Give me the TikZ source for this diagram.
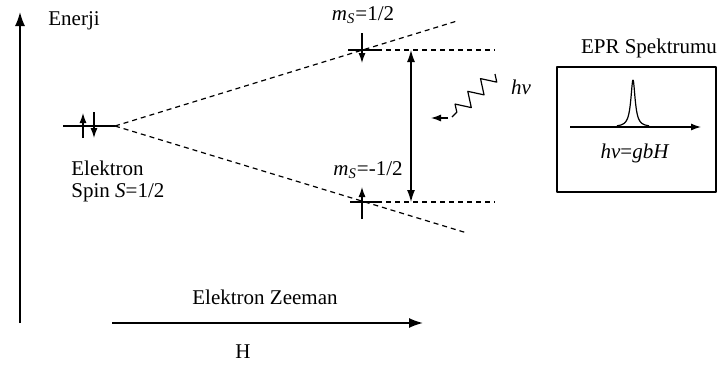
\documentclass[tikz,border=0pt]{standalone}
\usepackage{fontspec}
\setmainfont{Liberation Serif}
\usetikzlibrary{arrows.meta,decorations.pathmorphing}

\tikzset{
  tip/.style={-{Latex[length=5pt,width=3.5pt]}},
  bigtip/.style={-{Latex[length=7pt,width=5pt]}},
  level/.style={dash pattern=on 2.5pt off 2pt},
  lbl/.style={inner sep=1pt}
}

\begin{document}
\begin{tikzpicture}[x=0.5pt, y=-0.5pt, line join=round, font=\fontsize{10.5}{12}\selectfont]
    \useasboundingbox (0,0) rectangle (719,365);

    % 能量轴
    \coordinate (Ebot) at (20,323);
    \coordinate (Etop) at (20,12);
    \draw[thick, bigtip] (Ebot) -- (Etop);
    \node[lbl, anchor=west] (enerji) at (46,21) {Enerji};

    % 零场能级与电子自旋
    \coordinate (L0a) at (63,126);
    \coordinate (L0b) at (115,126);
    \draw[semithick] (L0a) -- (L0b);
    \coordinate (up0a) at (83,138);  \coordinate (up0b) at (83,113);
    \coordinate (dn0a) at (94,112);  \coordinate (dn0b) at (94,138);
    \draw[semithick, tip] (up0a) -- (up0b);
    \draw[semithick, tip] (dn0a) -- (dn0b);
    \node[lbl, anchor=west] (elektron) at (69,168) {Elektron};
    \node[lbl, anchor=west] (spin) at (69,193) {Spin \textit{S}=1/2};

    % Zeeman 分裂
    \coordinate (Uend) at (457,21);
    \coordinate (Dend) at (467,233);
    \draw[semithick, level] (L0b) -- (Uend);
    \draw[semithick, level] (L0b) -- (Dend);

    % 上能级 m_S=1/2
    \coordinate (Ua) at (348,50);
    \coordinate (Ub) at (377,50);
    \coordinate (Uc) at (495,50);
    \draw[semithick] (Ua) -- (Ub);
    \draw[semithick, level] (Ub) -- (Uc);
    \coordinate (dnUa) at (362,33);  \coordinate (dnUb) at (362,63);
    \draw[semithick, tip] (dnUa) -- (dnUb);
    \node[lbl] (msup) at (363,15) {\textit{m}\textsubscript{\textit{S}}=1/2};

    % 下能级 m_S=-1/2
    \coordinate (Da) at (350,202);
    \coordinate (Db) at (377,202);
    \coordinate (Dc) at (495,202);
    \draw[semithick] (Da) -- (Db);
    \draw[semithick, level] (Db) -- (Dc);
    \coordinate (upDa) at (362,219);  \coordinate (upDb) at (362,187);
    \draw[semithick, tip] (upDa) -- (upDb);
    \node[lbl] (msdn) at (368,170) {\textit{m}\textsubscript{\textit{S}}=-1/2};

    % 跃迁
    \coordinate (trU) at (411,50);
    \coordinate (trD) at (411,202);
    \draw[semithick, {Latex[length=6pt,width=4pt]}-{Latex[length=6pt,width=4pt]}] (trU) -- (trD);

    % 微波 hv
    \coordinate (hvA) at (495,74);
    \coordinate (hvM) at (452,117);
    \coordinate (hvS) at (448,118);
    \coordinate (hvB) at (431,118);
    \draw[semithick, decorate, decoration={zigzag, segment length=9pt, amplitude=3.5pt,
        pre length=0pt, post length=0pt}] (hvA) -- (hvM);
    \draw[semithick, tip] (hvS) -- (hvB);
    \node[lbl] (hv) at (521,87) {\textit{hv}};

    % EPR 谱
    \node[lbl] (eprtitle) at (649,48) {EPR Spektrumu};
    \coordinate (boxA) at (557,67);
    \coordinate (boxB) at (716,192);
    \draw[semithick] (boxA) rectangle (boxB);
    \coordinate (spA) at (570,127);
    \coordinate (spB) at (701,127);
    \draw[semithick, tip] (spA) -- (spB);
    \draw[semithick, domain=617:649, samples=120]
        plot (\x, {127-47/(1+((\x-633)/2.6)^2)});
    \node[lbl] (reson) at (635,153) {\textit{hv}=\textit{gbH}};

    % 磁场轴
    \node[lbl] (zeeman) at (265,297) {Elektron Zeeman};
    \coordinate (Ha) at (112,323);
    \coordinate (Hb) at (423,323);
    \draw[thick, bigtip] (Ha) -- (Hb);
    \node[lbl] (H) at (243,352) {H};
\end{tikzpicture}
\end{document}
